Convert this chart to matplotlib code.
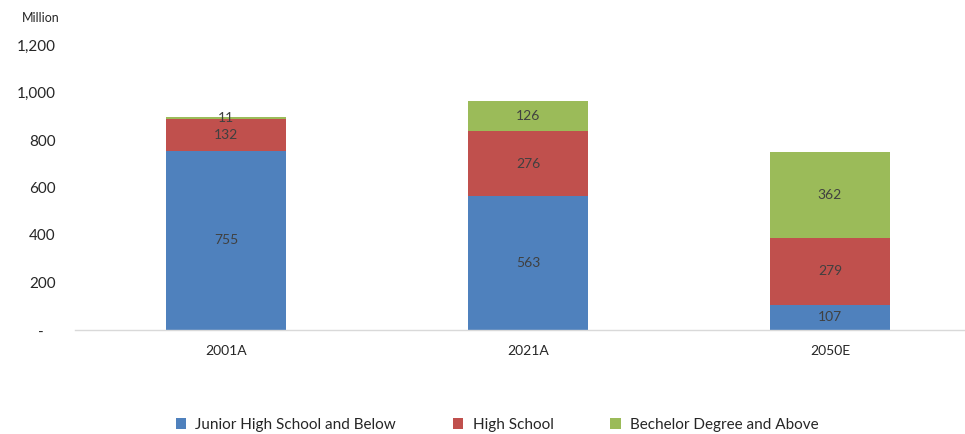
import numpy as np
import matplotlib.pyplot as plt

years = ['2001A', '2021A', '2050E']
junior = [755, 563, 107]
high_school = [132, 276, 279]
bachelor = [11, 126, 362]
series_names = ['Junior High School and Below', 'High School', 'Bechelor Degree and Above']
colors = ['#4F81BD', '#C0504D', '#9BBB59']
yticks = [0, 200, 400, 600, 800, 1000, 1200]

plt.rcParams['font.family'] = ['Lato', 'DejaVu Sans']

fig = plt.figure(figsize=(9.65, 4.34), dpi=100)
ax = fig.add_axes([75 / 965, 104 / 434, 906 / 965, 285 / 434])

x = np.arange(len(years))
bottom = np.zeros(len(years))
for vals, name, c in zip([junior, high_school, bachelor], series_names, colors):
    ax.bar(x, vals, width=0.4, bottom=bottom, color=c, label=name)
    for xi, b, v in zip(x, bottom, vals):
        ax.text(xi, b + v / 2, str(v), ha='center', va='center',
                fontsize=10, color='#404040')
    bottom += np.array(vals)

ax.set_xlim(-0.5, 2.5)
ax.set_ylim(0, 1200)
ax.set_xticks(x)
ax.set_xticklabels(years, fontsize=10, color='#262626')
ax.set_yticks(yticks)
ax.set_yticklabels(['-   '] + [f'{t:,}' for t in yticks[1:]], fontsize=11, color='#262626')
ax.tick_params(axis='y', length=0, pad=14)
ax.tick_params(axis='x', length=0, pad=11)
for s in ['top', 'right', 'left']:
    ax.spines[s].set_visible(False)
ax.spines['bottom'].set_color('#D9D9D9')
ax.spines['bottom'].set_linewidth(1)

fig.text(22 / 965, 1 - 18 / 434, 'Million', fontsize=9, color='#262626', va='center')

fig.legend(loc='center', bbox_to_anchor=(497 / 965, 1 - 425 / 434), ncol=3,
           frameon=False, fontsize=11, handlelength=0.7, handleheight=0.7,
           columnspacing=3.7, handletextpad=0.6, labelcolor='#262626')

plt.savefig('out.png', dpi=100)
